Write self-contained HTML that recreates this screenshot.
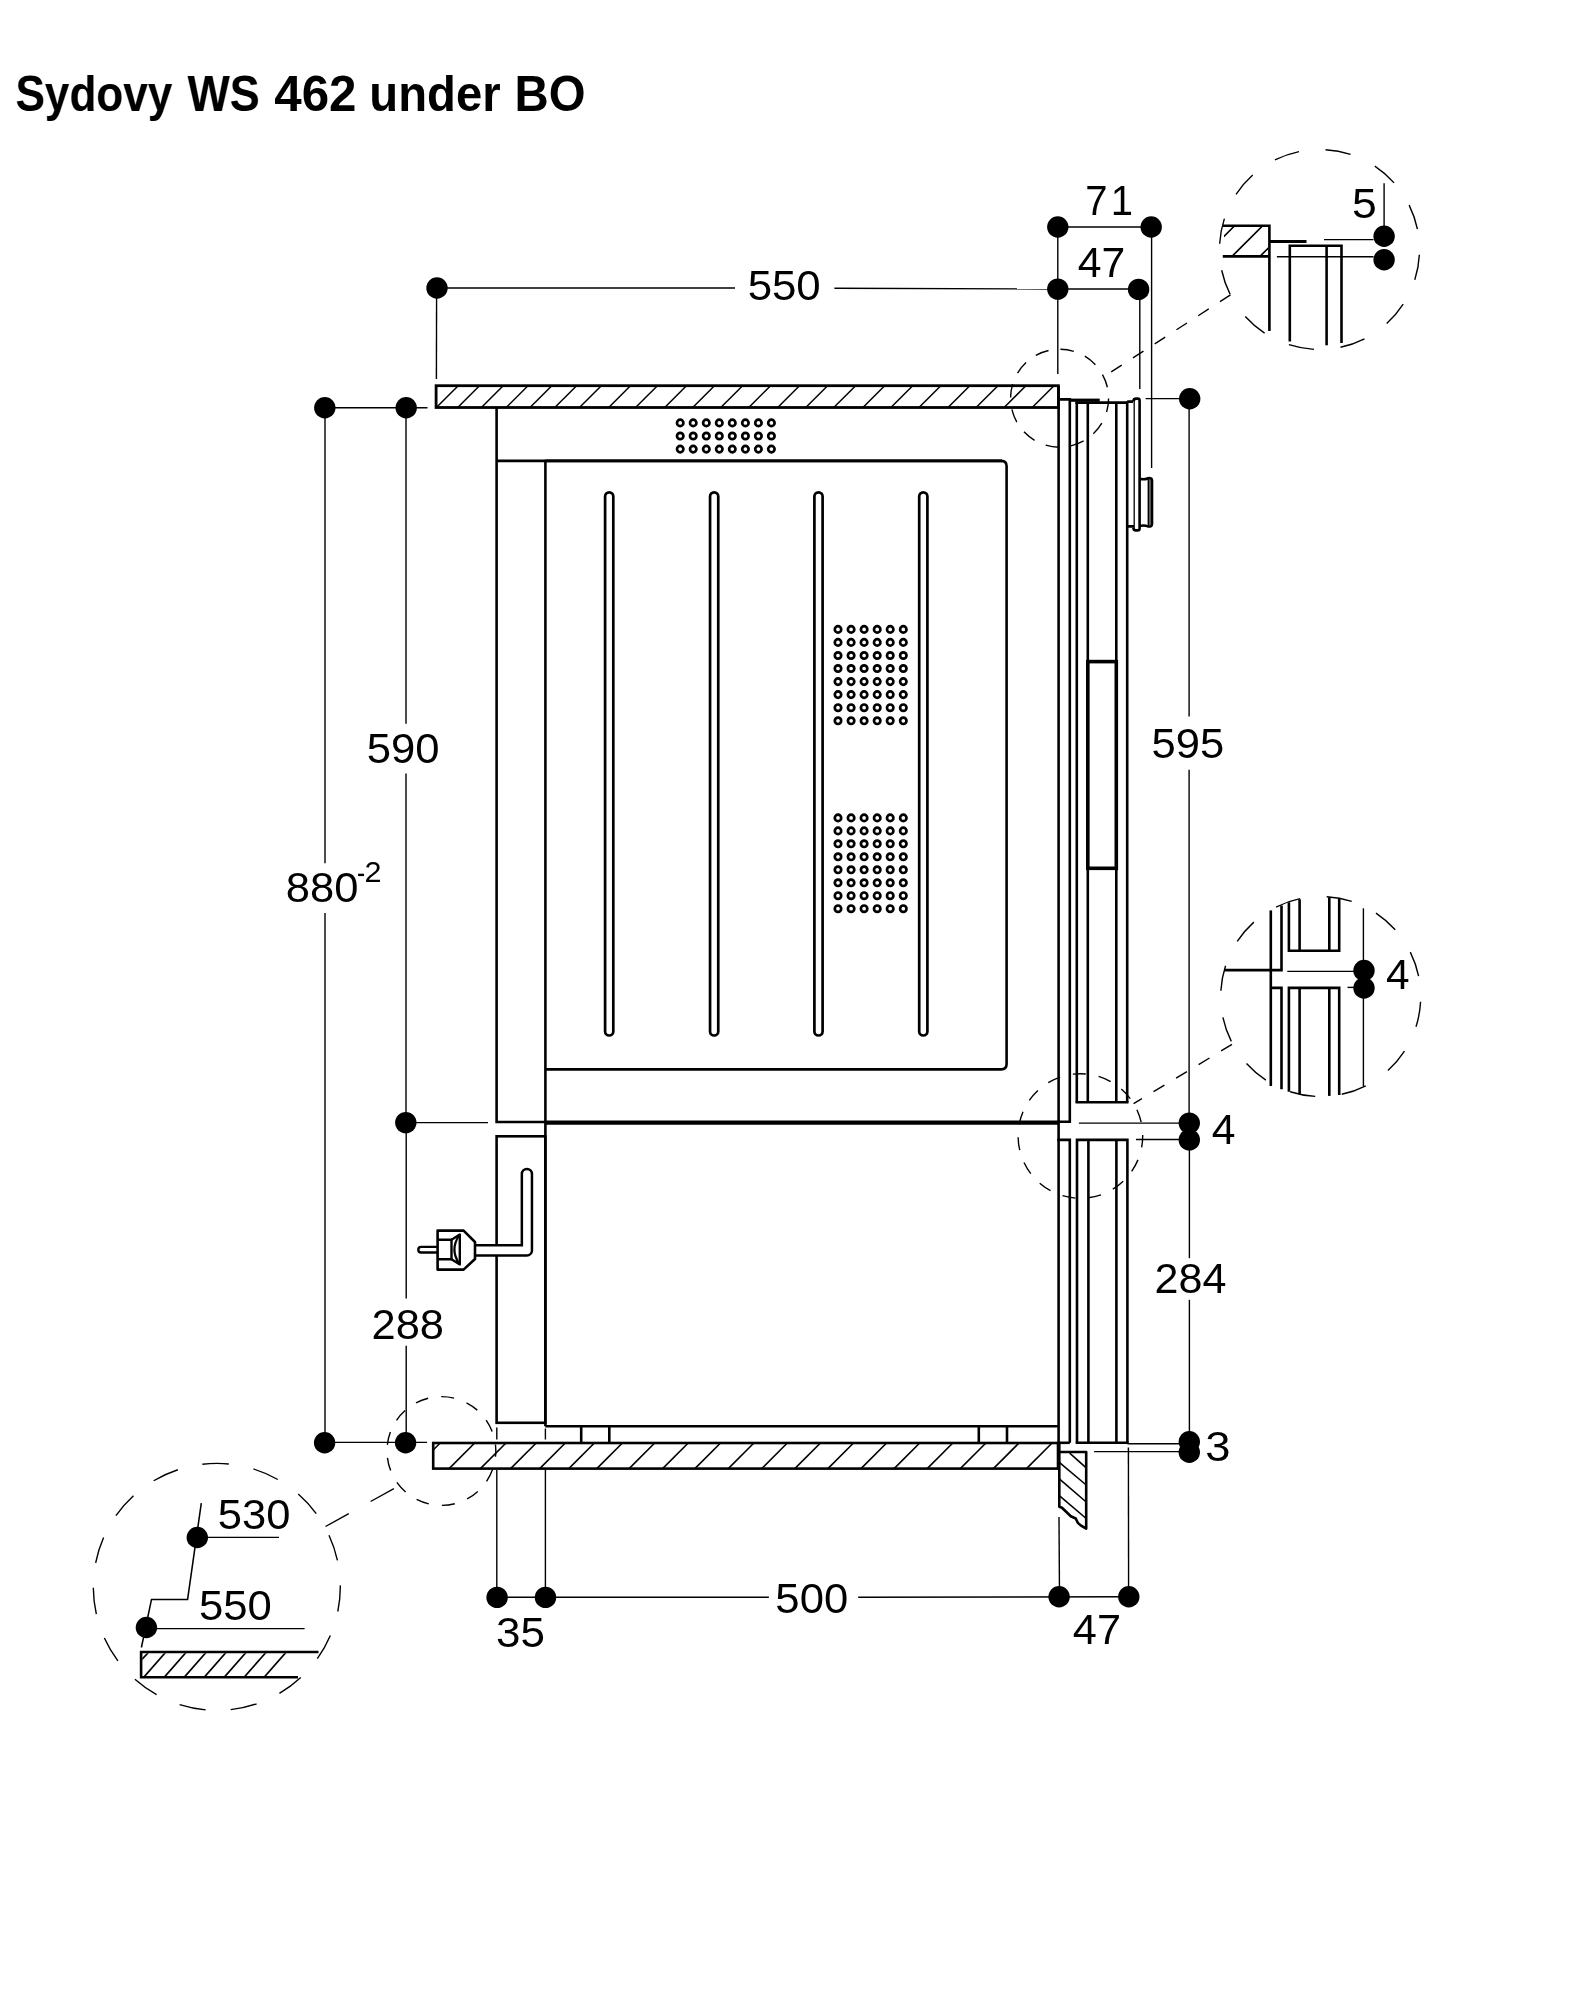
<!DOCTYPE html>
<html><head><meta charset="utf-8"><title>Sydovy WS 462 under BO</title>
<style>
html,body{margin:0;padding:0;background:#fff;}
body{width:1577px;height:2000px;overflow:hidden;font-family:"Liberation Sans",sans-serif;}
svg{display:block;filter:grayscale(1);}
svg text{font-family:"Liberation Sans",sans-serif;fill:#000;stroke:none;font-kerning:none;}
</style></head><body>
<svg width="1577" height="2000" viewBox="0 0 1577 2000" stroke="#000" stroke-linecap="butt">
<rect x="0" y="0" width="1577" height="2000" fill="#fff" stroke="none"/>
<g font-weight="bold">
<text transform="translate(15.43 110.7) scale(0.4414 0.4940)" font-size="100">Sydovy</text>
<text transform="translate(187.46 110.7) scale(0.4482 0.4940)" font-size="100">WS</text>
<text transform="translate(274.25 110.7) scale(0.4934 0.4940)" font-size="100">462</text>
<text transform="translate(369.37 110.7) scale(0.4728 0.4940)" font-size="100">under</text>
<text transform="translate(514.53 110.7) scale(0.4737 0.4940)" font-size="100">BO</text>
</g>
<g id="topbar">
<rect x="436.1" y="385.7" width="622.3" height="21.8" fill="#fff" stroke-width="2.8"/>
<line x1="436.4" y1="407.5" x2="458.2" y2="385.7" stroke-width="1.5"/>
<line x1="457.7" y1="407.5" x2="479.5" y2="385.7" stroke-width="1.5"/>
<line x1="481.4" y1="407.5" x2="503.2" y2="385.7" stroke-width="1.5"/>
<line x1="506.2" y1="407.5" x2="528.0" y2="385.7" stroke-width="1.5"/>
<line x1="530" y1="407.5" x2="551.8" y2="385.7" stroke-width="1.5"/>
<line x1="554.8" y1="407.5" x2="576.5999999999999" y2="385.7" stroke-width="1.5"/>
<line x1="579.5" y1="407.5" x2="601.3" y2="385.7" stroke-width="1.5"/>
<line x1="608.7" y1="407.5" x2="630.5" y2="385.7" stroke-width="1.5"/>
<line x1="635.6" y1="407.5" x2="657.4" y2="385.7" stroke-width="1.5"/>
<line x1="664.7" y1="407.5" x2="686.5" y2="385.7" stroke-width="1.5"/>
<line x1="692.7" y1="407.5" x2="714.5" y2="385.7" stroke-width="1.5"/>
<line x1="720.8" y1="407.5" x2="742.5999999999999" y2="385.7" stroke-width="1.5"/>
<line x1="748.8" y1="407.5" x2="770.5999999999999" y2="385.7" stroke-width="1.5"/>
<line x1="777.7" y1="407.5" x2="799.5" y2="385.7" stroke-width="1.5"/>
<line x1="805.8" y1="407.5" x2="827.5999999999999" y2="385.7" stroke-width="1.5"/>
<line x1="833.8" y1="407.5" x2="855.5999999999999" y2="385.7" stroke-width="1.5"/>
<line x1="862.9" y1="407.5" x2="884.6999999999999" y2="385.7" stroke-width="1.5"/>
<line x1="890.9" y1="407.5" x2="912.6999999999999" y2="385.7" stroke-width="1.5"/>
<line x1="919" y1="407.5" x2="940.8" y2="385.7" stroke-width="1.5"/>
<line x1="948" y1="407.5" x2="969.8" y2="385.7" stroke-width="1.5"/>
<line x1="976.1" y1="407.5" x2="997.9" y2="385.7" stroke-width="1.5"/>
<line x1="1004.1" y1="407.5" x2="1025.9" y2="385.7" stroke-width="1.5"/>
<line x1="1032.2" y1="407.5" x2="1054.0" y2="385.7" stroke-width="1.5"/>
</g>
<path d="M496.6 408 V1122 H545.3" stroke-width="2.6" fill="none"/>
<line x1="496.6" y1="460.9" x2="1002" y2="460.9" stroke-width="2.6"/>
<path d="M545.3 460.9 H1001.3 Q1006.6 460.9 1006.6 466.2 V1064.1 Q1006.6 1069.4 1001.3 1069.4 H545.3" stroke-width="2.6" fill="none"/>
<line x1="545.4" y1="460.9" x2="545.4" y2="1426.2" stroke-width="2.6"/>
<line x1="545.3" y1="1122.7" x2="1058.6" y2="1122.7" stroke-width="4.2"/>
<line x1="1058.6" y1="386" x2="1058.6" y2="1443" stroke-width="2.6"/>
<rect x="605.10" y="492.3" width="8.2" height="543.2" rx="4.1" fill="none" stroke-width="2.7"/>
<rect x="710.05" y="492.3" width="8.2" height="543.2" rx="4.1" fill="none" stroke-width="2.7"/>
<rect x="814.40" y="492.3" width="8.2" height="543.2" rx="4.1" fill="none" stroke-width="2.7"/>
<rect x="919.20" y="492.3" width="8.2" height="543.2" rx="4.1" fill="none" stroke-width="2.7"/>
<circle cx="680.2" cy="422.9" r="3.2" fill="none" stroke-width="2.7"/>
<circle cx="693.2" cy="422.9" r="3.2" fill="none" stroke-width="2.7"/>
<circle cx="706.3" cy="422.9" r="3.2" fill="none" stroke-width="2.7"/>
<circle cx="719.3" cy="422.9" r="3.2" fill="none" stroke-width="2.7"/>
<circle cx="732.3" cy="422.9" r="3.2" fill="none" stroke-width="2.7"/>
<circle cx="745.4" cy="422.9" r="3.2" fill="none" stroke-width="2.7"/>
<circle cx="758.4" cy="422.9" r="3.2" fill="none" stroke-width="2.7"/>
<circle cx="771.4" cy="422.9" r="3.2" fill="none" stroke-width="2.7"/>
<circle cx="680.2" cy="436.0" r="3.2" fill="none" stroke-width="2.7"/>
<circle cx="693.2" cy="436.0" r="3.2" fill="none" stroke-width="2.7"/>
<circle cx="706.3" cy="436.0" r="3.2" fill="none" stroke-width="2.7"/>
<circle cx="719.3" cy="436.0" r="3.2" fill="none" stroke-width="2.7"/>
<circle cx="732.3" cy="436.0" r="3.2" fill="none" stroke-width="2.7"/>
<circle cx="745.4" cy="436.0" r="3.2" fill="none" stroke-width="2.7"/>
<circle cx="758.4" cy="436.0" r="3.2" fill="none" stroke-width="2.7"/>
<circle cx="771.4" cy="436.0" r="3.2" fill="none" stroke-width="2.7"/>
<circle cx="680.2" cy="449.1" r="3.2" fill="none" stroke-width="2.7"/>
<circle cx="693.2" cy="449.1" r="3.2" fill="none" stroke-width="2.7"/>
<circle cx="706.3" cy="449.1" r="3.2" fill="none" stroke-width="2.7"/>
<circle cx="719.3" cy="449.1" r="3.2" fill="none" stroke-width="2.7"/>
<circle cx="732.3" cy="449.1" r="3.2" fill="none" stroke-width="2.7"/>
<circle cx="745.4" cy="449.1" r="3.2" fill="none" stroke-width="2.7"/>
<circle cx="758.4" cy="449.1" r="3.2" fill="none" stroke-width="2.7"/>
<circle cx="771.4" cy="449.1" r="3.2" fill="none" stroke-width="2.7"/>
<circle cx="838.0" cy="629.4" r="3.2" fill="none" stroke-width="2.7"/>
<circle cx="851.1" cy="629.4" r="3.2" fill="none" stroke-width="2.7"/>
<circle cx="864.1" cy="629.4" r="3.2" fill="none" stroke-width="2.7"/>
<circle cx="877.2" cy="629.4" r="3.2" fill="none" stroke-width="2.7"/>
<circle cx="890.2" cy="629.4" r="3.2" fill="none" stroke-width="2.7"/>
<circle cx="903.3" cy="629.4" r="3.2" fill="none" stroke-width="2.7"/>
<circle cx="838.0" cy="642.4" r="3.2" fill="none" stroke-width="2.7"/>
<circle cx="851.1" cy="642.4" r="3.2" fill="none" stroke-width="2.7"/>
<circle cx="864.1" cy="642.4" r="3.2" fill="none" stroke-width="2.7"/>
<circle cx="877.2" cy="642.4" r="3.2" fill="none" stroke-width="2.7"/>
<circle cx="890.2" cy="642.4" r="3.2" fill="none" stroke-width="2.7"/>
<circle cx="903.3" cy="642.4" r="3.2" fill="none" stroke-width="2.7"/>
<circle cx="838.0" cy="655.5" r="3.2" fill="none" stroke-width="2.7"/>
<circle cx="851.1" cy="655.5" r="3.2" fill="none" stroke-width="2.7"/>
<circle cx="864.1" cy="655.5" r="3.2" fill="none" stroke-width="2.7"/>
<circle cx="877.2" cy="655.5" r="3.2" fill="none" stroke-width="2.7"/>
<circle cx="890.2" cy="655.5" r="3.2" fill="none" stroke-width="2.7"/>
<circle cx="903.3" cy="655.5" r="3.2" fill="none" stroke-width="2.7"/>
<circle cx="838.0" cy="668.5" r="3.2" fill="none" stroke-width="2.7"/>
<circle cx="851.1" cy="668.5" r="3.2" fill="none" stroke-width="2.7"/>
<circle cx="864.1" cy="668.5" r="3.2" fill="none" stroke-width="2.7"/>
<circle cx="877.2" cy="668.5" r="3.2" fill="none" stroke-width="2.7"/>
<circle cx="890.2" cy="668.5" r="3.2" fill="none" stroke-width="2.7"/>
<circle cx="903.3" cy="668.5" r="3.2" fill="none" stroke-width="2.7"/>
<circle cx="838.0" cy="681.6" r="3.2" fill="none" stroke-width="2.7"/>
<circle cx="851.1" cy="681.6" r="3.2" fill="none" stroke-width="2.7"/>
<circle cx="864.1" cy="681.6" r="3.2" fill="none" stroke-width="2.7"/>
<circle cx="877.2" cy="681.6" r="3.2" fill="none" stroke-width="2.7"/>
<circle cx="890.2" cy="681.6" r="3.2" fill="none" stroke-width="2.7"/>
<circle cx="903.3" cy="681.6" r="3.2" fill="none" stroke-width="2.7"/>
<circle cx="838.0" cy="694.6" r="3.2" fill="none" stroke-width="2.7"/>
<circle cx="851.1" cy="694.6" r="3.2" fill="none" stroke-width="2.7"/>
<circle cx="864.1" cy="694.6" r="3.2" fill="none" stroke-width="2.7"/>
<circle cx="877.2" cy="694.6" r="3.2" fill="none" stroke-width="2.7"/>
<circle cx="890.2" cy="694.6" r="3.2" fill="none" stroke-width="2.7"/>
<circle cx="903.3" cy="694.6" r="3.2" fill="none" stroke-width="2.7"/>
<circle cx="838.0" cy="707.7" r="3.2" fill="none" stroke-width="2.7"/>
<circle cx="851.1" cy="707.7" r="3.2" fill="none" stroke-width="2.7"/>
<circle cx="864.1" cy="707.7" r="3.2" fill="none" stroke-width="2.7"/>
<circle cx="877.2" cy="707.7" r="3.2" fill="none" stroke-width="2.7"/>
<circle cx="890.2" cy="707.7" r="3.2" fill="none" stroke-width="2.7"/>
<circle cx="903.3" cy="707.7" r="3.2" fill="none" stroke-width="2.7"/>
<circle cx="838.0" cy="720.8" r="3.2" fill="none" stroke-width="2.7"/>
<circle cx="851.1" cy="720.8" r="3.2" fill="none" stroke-width="2.7"/>
<circle cx="864.1" cy="720.8" r="3.2" fill="none" stroke-width="2.7"/>
<circle cx="877.2" cy="720.8" r="3.2" fill="none" stroke-width="2.7"/>
<circle cx="890.2" cy="720.8" r="3.2" fill="none" stroke-width="2.7"/>
<circle cx="903.3" cy="720.8" r="3.2" fill="none" stroke-width="2.7"/>
<circle cx="838.0" cy="817.9" r="3.2" fill="none" stroke-width="2.7"/>
<circle cx="851.1" cy="817.9" r="3.2" fill="none" stroke-width="2.7"/>
<circle cx="864.1" cy="817.9" r="3.2" fill="none" stroke-width="2.7"/>
<circle cx="877.2" cy="817.9" r="3.2" fill="none" stroke-width="2.7"/>
<circle cx="890.2" cy="817.9" r="3.2" fill="none" stroke-width="2.7"/>
<circle cx="903.3" cy="817.9" r="3.2" fill="none" stroke-width="2.7"/>
<circle cx="838.0" cy="830.9" r="3.2" fill="none" stroke-width="2.7"/>
<circle cx="851.1" cy="830.9" r="3.2" fill="none" stroke-width="2.7"/>
<circle cx="864.1" cy="830.9" r="3.2" fill="none" stroke-width="2.7"/>
<circle cx="877.2" cy="830.9" r="3.2" fill="none" stroke-width="2.7"/>
<circle cx="890.2" cy="830.9" r="3.2" fill="none" stroke-width="2.7"/>
<circle cx="903.3" cy="830.9" r="3.2" fill="none" stroke-width="2.7"/>
<circle cx="838.0" cy="843.8" r="3.2" fill="none" stroke-width="2.7"/>
<circle cx="851.1" cy="843.8" r="3.2" fill="none" stroke-width="2.7"/>
<circle cx="864.1" cy="843.8" r="3.2" fill="none" stroke-width="2.7"/>
<circle cx="877.2" cy="843.8" r="3.2" fill="none" stroke-width="2.7"/>
<circle cx="890.2" cy="843.8" r="3.2" fill="none" stroke-width="2.7"/>
<circle cx="903.3" cy="843.8" r="3.2" fill="none" stroke-width="2.7"/>
<circle cx="838.0" cy="856.8" r="3.2" fill="none" stroke-width="2.7"/>
<circle cx="851.1" cy="856.8" r="3.2" fill="none" stroke-width="2.7"/>
<circle cx="864.1" cy="856.8" r="3.2" fill="none" stroke-width="2.7"/>
<circle cx="877.2" cy="856.8" r="3.2" fill="none" stroke-width="2.7"/>
<circle cx="890.2" cy="856.8" r="3.2" fill="none" stroke-width="2.7"/>
<circle cx="903.3" cy="856.8" r="3.2" fill="none" stroke-width="2.7"/>
<circle cx="838.0" cy="869.8" r="3.2" fill="none" stroke-width="2.7"/>
<circle cx="851.1" cy="869.8" r="3.2" fill="none" stroke-width="2.7"/>
<circle cx="864.1" cy="869.8" r="3.2" fill="none" stroke-width="2.7"/>
<circle cx="877.2" cy="869.8" r="3.2" fill="none" stroke-width="2.7"/>
<circle cx="890.2" cy="869.8" r="3.2" fill="none" stroke-width="2.7"/>
<circle cx="903.3" cy="869.8" r="3.2" fill="none" stroke-width="2.7"/>
<circle cx="838.0" cy="882.8" r="3.2" fill="none" stroke-width="2.7"/>
<circle cx="851.1" cy="882.8" r="3.2" fill="none" stroke-width="2.7"/>
<circle cx="864.1" cy="882.8" r="3.2" fill="none" stroke-width="2.7"/>
<circle cx="877.2" cy="882.8" r="3.2" fill="none" stroke-width="2.7"/>
<circle cx="890.2" cy="882.8" r="3.2" fill="none" stroke-width="2.7"/>
<circle cx="903.3" cy="882.8" r="3.2" fill="none" stroke-width="2.7"/>
<circle cx="838.0" cy="895.7" r="3.2" fill="none" stroke-width="2.7"/>
<circle cx="851.1" cy="895.7" r="3.2" fill="none" stroke-width="2.7"/>
<circle cx="864.1" cy="895.7" r="3.2" fill="none" stroke-width="2.7"/>
<circle cx="877.2" cy="895.7" r="3.2" fill="none" stroke-width="2.7"/>
<circle cx="890.2" cy="895.7" r="3.2" fill="none" stroke-width="2.7"/>
<circle cx="903.3" cy="895.7" r="3.2" fill="none" stroke-width="2.7"/>
<circle cx="838.0" cy="908.7" r="3.2" fill="none" stroke-width="2.7"/>
<circle cx="851.1" cy="908.7" r="3.2" fill="none" stroke-width="2.7"/>
<circle cx="864.1" cy="908.7" r="3.2" fill="none" stroke-width="2.7"/>
<circle cx="877.2" cy="908.7" r="3.2" fill="none" stroke-width="2.7"/>
<circle cx="890.2" cy="908.7" r="3.2" fill="none" stroke-width="2.7"/>
<circle cx="903.3" cy="908.7" r="3.2" fill="none" stroke-width="2.7"/>
<path d="M1058.6 399.4 H1069.8 V1121.8 H1057.5" stroke-width="2.6" fill="none"/>
<line x1="1070" y1="400.2" x2="1099.7" y2="400.2" stroke-width="3.2"/>
<line x1="1075.3" y1="402.6" x2="1127.2" y2="402.6" stroke-width="2.6"/>
<line x1="1076.8" y1="402.6" x2="1076.8" y2="1102.2" stroke-width="2.6"/>
<line x1="1087.8" y1="402.6" x2="1087.8" y2="1102.2" stroke-width="2.6"/>
<line x1="1116.3" y1="402.6" x2="1116.3" y2="1102.2" stroke-width="2.6"/>
<line x1="1127.2" y1="401.4" x2="1127.2" y2="1102.2" stroke-width="2.6"/>
<line x1="1075.5" y1="1102.2" x2="1128.5" y2="1102.2" stroke-width="2.6"/>
<rect x="1087.8" y="661.6" width="28.5" height="206.7" fill="none" stroke-width="3.6"/>
<path d="M1127.2 401.6 H1133 M1127.2 526.4 H1134" stroke-width="2.6" fill="none"/>
<path d="M1134.2 400.6 V528.4" stroke-width="1.3" fill="none"/>
<path d="M1133.4 401.5 Q1133.4 398.6 1136.3 398.6 H1137.6 Q1139.6 398.6 1139.6 400.6 V528.4 Q1139.6 530.4 1137.6 530.4 H1136 Q1133.4 530.4 1133.4 528" stroke-width="2.6" fill="none"/>
<rect x="1148.4" y="479" width="3.6" height="46.5" fill="#777" stroke="none"/>
<path d="M1139.6 478.8 Q1144 480 1148 478.2 Q1152 477.3 1152 480.5 V524 Q1152 527.2 1148 526.4 Q1144 524.8 1139.6 526" stroke-width="2.6" fill="none"/>
<path d="M1148.4 479 V525.5" stroke-width="1.6" fill="none"/>
<rect x="496.6" y="1136.3" width="48.7" height="286.5" fill="none" stroke-width="2.6"/>
<line x1="545.3" y1="1426.3" x2="1058.6" y2="1426.3" stroke-width="2.6"/>
<line x1="581.2" y1="1426.3" x2="581.2" y2="1443" stroke-width="2.6"/>
<line x1="609.3" y1="1426.3" x2="609.3" y2="1443" stroke-width="2.6"/>
<line x1="978.8" y1="1426.3" x2="978.8" y2="1443" stroke-width="2.6"/>
<line x1="1007" y1="1426.3" x2="1007" y2="1443" stroke-width="2.6"/>
<path d="M1057.3 1139.9 H1069.8 V1442.8" stroke-width="2.6" fill="none"/>
<path d="M1077 1442.8 V1139.9 H1127.4 V1442.8" stroke-width="2.6" fill="none"/>
<line x1="1088.4" y1="1139.9" x2="1088.4" y2="1442.8" stroke-width="2.6"/>
<line x1="1116.4" y1="1139.9" x2="1116.4" y2="1442.8" stroke-width="2.6"/>
<line x1="1057.3" y1="1442.8" x2="1069.8" y2="1442.8" stroke-width="2.6"/>
<line x1="1075.7" y1="1442.8" x2="1128.7" y2="1442.8" stroke-width="2.6"/>
<path d="M470 1250.4 H526.9 V1174" fill="none" stroke="#000" stroke-width="12.6" stroke-linecap="round" stroke-linejoin="round"/>
<path d="M470 1250.4 H526.9 V1174" fill="none" stroke="#fff" stroke-width="7.6" stroke-linecap="round" stroke-linejoin="round"/>
<rect x="418.3" y="1246.9" width="22" height="5.6" rx="2.8" fill="#fff" stroke-width="2.4"/>
<path d="M437.6 1230.6 H463.6 L475 1242 V1259 L463.6 1269.6 H437.6 Z" stroke-width="2.6" fill="#fff" stroke-linejoin="round"/>
<path d="M437.6 1239.8 H451.5 V1259.2 H437.6" stroke-width="2.4" fill="none"/>
<path d="M451.5 1239.8 L459.8 1234.6 V1264.4 L451.5 1259.2" stroke-width="2.4" fill="none" stroke-linejoin="round"/>
<path d="M459.4 1235 Q449.4 1249.5 459.4 1264" stroke-width="2.2" fill="none"/>
<rect x="433.2" y="1443" width="624.8" height="25.6" fill="#fff" stroke-width="2.6"/>
<line x1="449.1" y1="1468.6" x2="474.70000000000005" y2="1443" stroke-width="1.6"/>
<line x1="480.4" y1="1468.6" x2="506.0" y2="1443" stroke-width="1.6"/>
<line x1="510.6" y1="1468.6" x2="536.2" y2="1443" stroke-width="1.6"/>
<line x1="539.7" y1="1468.6" x2="565.3000000000001" y2="1443" stroke-width="1.6"/>
<line x1="568.8" y1="1468.6" x2="594.4" y2="1443" stroke-width="1.6"/>
<line x1="596.8" y1="1468.6" x2="622.4" y2="1443" stroke-width="1.6"/>
<line x1="629.1" y1="1468.6" x2="654.7" y2="1443" stroke-width="1.6"/>
<line x1="662.6" y1="1468.6" x2="688.2" y2="1443" stroke-width="1.6"/>
<line x1="694.9" y1="1468.6" x2="720.5" y2="1443" stroke-width="1.6"/>
<line x1="728.3" y1="1468.6" x2="753.9" y2="1443" stroke-width="1.6"/>
<line x1="761.7" y1="1468.6" x2="787.3000000000001" y2="1443" stroke-width="1.6"/>
<line x1="794.8" y1="1468.6" x2="820.4" y2="1443" stroke-width="1.6"/>
<line x1="827.9" y1="1468.6" x2="853.5" y2="1443" stroke-width="1.6"/>
<line x1="861" y1="1468.6" x2="886.6" y2="1443" stroke-width="1.6"/>
<line x1="894.1" y1="1468.6" x2="919.7" y2="1443" stroke-width="1.6"/>
<line x1="927.2" y1="1468.6" x2="952.8000000000001" y2="1443" stroke-width="1.6"/>
<line x1="960.3" y1="1468.6" x2="985.9" y2="1443" stroke-width="1.6"/>
<line x1="993.4" y1="1468.6" x2="1019.0" y2="1443" stroke-width="1.6"/>
<line x1="1026.5" y1="1468.6" x2="1052.1" y2="1443" stroke-width="1.6"/>
<line x1="433.2" y1="1450" x2="440.2" y2="1443" stroke-width="1.6"/>
<path d="M1059.3 1452 V1506.7 L1062 1507.8 L1070.8 1516.3 L1075.7 1518.5 L1077.9 1522.9 L1080.7 1525.4 L1086.2 1528.6 V1452 Z" stroke-width="2.6" fill="#fff" stroke-linejoin="round"/>
<line x1="1059.3" y1="1443" x2="1059.3" y2="1453" stroke-width="2.6"/>
<line x1="1069.7" y1="1453.1" x2="1086.2" y2="1467.9" stroke-width="1.6"/>
<line x1="1059.3" y1="1462.4" x2="1086.2" y2="1485" stroke-width="1.6"/>
<line x1="1059.3" y1="1478.9" x2="1086.2" y2="1502" stroke-width="1.6"/>
<line x1="1059.3" y1="1495.7" x2="1086.2" y2="1518.5" stroke-width="1.6"/>
<line x1="437" y1="288" x2="735" y2="288" stroke-width="1.4"/>
<line x1="834.4" y1="288.3" x2="1058" y2="289" stroke-width="1.4"/>
<line x1="436.6" y1="288" x2="436.4" y2="379" stroke-width="1.4"/>
<line x1="1057.8" y1="227" x2="1151.2" y2="227" stroke-width="1.4"/>
<line x1="1057.8" y1="289" x2="1138.6" y2="289" stroke-width="1.4"/>
<line x1="1057.8" y1="227" x2="1057.8" y2="374" stroke-width="1.4"/>
<line x1="1139.8" y1="289" x2="1139.8" y2="389" stroke-width="1.4"/>
<line x1="1151.6" y1="227" x2="1151.6" y2="468" stroke-width="1.4"/>
<line x1="1145.6" y1="398.6" x2="1189.7" y2="398.6" stroke-width="1.4"/>
<line x1="1189.1" y1="398.6" x2="1189.1" y2="716.6" stroke-width="1.4"/>
<line x1="1189.1" y1="769.85" x2="1189.1" y2="1123" stroke-width="1.4"/>
<line x1="1078.9" y1="1123.1" x2="1189" y2="1123.1" stroke-width="1.4"/>
<line x1="1136" y1="1139.5" x2="1189" y2="1139.5" stroke-width="1.4"/>
<line x1="1189.4" y1="1140" x2="1189.4" y2="1258.2" stroke-width="1.4"/>
<line x1="1189.4" y1="1299.8" x2="1189.4" y2="1442" stroke-width="1.4"/>
<line x1="1127.4" y1="1443.8" x2="1189" y2="1443.8" stroke-width="1.4"/>
<line x1="1094.1" y1="1451.6" x2="1189" y2="1451.6" stroke-width="1.4"/>
<line x1="324.8" y1="407.7" x2="427.5" y2="407.7" stroke-width="1.4"/>
<line x1="325" y1="407.7" x2="325" y2="863.2" stroke-width="1.4"/>
<line x1="325" y1="913.1" x2="325" y2="1442.7" stroke-width="1.4"/>
<line x1="406" y1="407.7" x2="406" y2="723.7" stroke-width="1.4"/>
<line x1="406" y1="773.6" x2="406" y2="1122.6" stroke-width="1.4"/>
<line x1="405.6" y1="1122.6" x2="488" y2="1122.6" stroke-width="1.4"/>
<line x1="406.2" y1="1122.6" x2="406.2" y2="1298.5" stroke-width="1.4"/>
<line x1="406.2" y1="1345.7" x2="406.2" y2="1442.7" stroke-width="1.4"/>
<line x1="324.4" y1="1442.4" x2="427.1" y2="1442.4" stroke-width="1.4"/>
<line x1="496.8" y1="1470" x2="496.8" y2="1597" stroke-width="1.4"/>
<line x1="545.4" y1="1470" x2="545.4" y2="1597" stroke-width="1.4"/>
<line x1="496.8" y1="1427.6" x2="496.8" y2="1439.5" stroke-width="1.4"/>
<line x1="545.4" y1="1428.5" x2="545.4" y2="1439.5" stroke-width="1.4"/>
<line x1="496.8" y1="1597.3" x2="768.9" y2="1597.3" stroke-width="1.4"/>
<line x1="858.2" y1="1597.2" x2="1128.8" y2="1596.8" stroke-width="1.4"/>
<line x1="1059" y1="1517" x2="1059.5" y2="1597" stroke-width="1.4"/>
<line x1="1128.4" y1="1447.5" x2="1128.6" y2="1597" stroke-width="1.4"/>
<circle cx="1059.6" cy="398.2" r="49" fill="none" stroke-width="1.4" stroke-dasharray="13.60 12.06" stroke-dashoffset="-0.43"/>
<line x1="1230.5" y1="294.9" x2="1110.3" y2="372.5" stroke-width="1.4" stroke-dasharray="12.5 13.4"/>
<circle cx="1319.5" cy="249.5" r="100" fill="none" stroke-width="1.4" stroke-dasharray="25.50 26.86" stroke-dashoffset="-5.41"/>
<circle cx="1080.4" cy="1136" r="62.3" fill="none" stroke-width="1.4" stroke-dasharray="13.10 13.00" stroke-dashoffset="1.63"/>
<line x1="1232" y1="1044.4" x2="1133.6" y2="1103.7" stroke-width="1.4" stroke-dasharray="12.7 13.6"/>
<circle cx="1320.7" cy="996.5" r="100" fill="none" stroke-width="1.4" stroke-dasharray="25.50 26.86" stroke-dashoffset="-5.34"/>
<circle cx="441.4" cy="1451" r="54.4" fill="none" stroke-width="1.4" stroke-dasharray="13.00 13.29" stroke-dashoffset="7.12"/>
<line x1="393.9" y1="1488.6" x2="325.5" y2="1526.5" stroke-width="1.4" stroke-dasharray="26.6 25"/>
<circle cx="216.8" cy="1586.9" r="123.5" fill="none" stroke-width="1.4" stroke-dasharray="26.60 25.13" stroke-dashoffset="1.83"/>
<rect x="1222.8" y="225.8" width="46.6" height="30.6" fill="none" stroke="none"/>
<path d="M1222.8 225.8 H1269.4 V331 M1222.8 256.4 H1269.4" stroke-width="2.6" fill="none"/>
<clipPath id="d1"><rect x="1224" y="227" width="44" height="28.2"/></clipPath><g clip-path="url(#d1)">
<line x1="1232" y1="256.4" x2="1262.6" y2="225.8" stroke-width="1.6"/>
<line x1="1260" y1="256.4" x2="1290.6" y2="225.8" stroke-width="1.6"/>
<line x1="1204" y1="256.4" x2="1234.6" y2="225.8" stroke-width="1.6"/>
</g>
<line x1="1269.4" y1="241.6" x2="1306.5" y2="241.6" stroke-width="3.0"/>
<path d="M1289.8 341.5 V245.8 H1341.5 V343" stroke-width="2.6" fill="none"/>
<line x1="1326.6" y1="245.8" x2="1326.6" y2="345.3" stroke-width="2.6"/>
<line x1="1324" y1="239.6" x2="1373.5" y2="239.6" stroke-width="1.4"/>
<line x1="1276.9" y1="256.8" x2="1373.5" y2="256.8" stroke-width="1.4"/>
<line x1="1384.1" y1="183.3" x2="1384.1" y2="236" stroke-width="1.4"/>
<circle cx="1384.1" cy="236.3" r="10.7" fill="#000" stroke="none"/>
<circle cx="1384.1" cy="259.8" r="10.7" fill="#000" stroke="none"/>
<path d="M1270.8 910.4 V1086" stroke-width="2.6" fill="none"/>
<path d="M1224.6 970.1 H1281.5 V905.4" stroke-width="2.6" fill="none"/>
<path d="M1288.9 902.2 V950.8 H1339.2 V898.4" stroke-width="2.6" fill="none"/>
<line x1="1299.6" y1="899.3" x2="1299.6" y2="950.8" stroke-width="2.6"/>
<line x1="1329.3" y1="897.2" x2="1329.3" y2="950.8" stroke-width="2.6"/>
<path d="M1270.8 987.9 H1281.5 V1089.3" stroke-width="2.6" fill="none"/>
<path d="M1288.9 1091.8 V987.9 H1339.2 V1095" stroke-width="2.6" fill="none"/>
<line x1="1299.6" y1="987.9" x2="1299.6" y2="1094.2" stroke-width="2.6"/>
<line x1="1329.3" y1="987.9" x2="1329.3" y2="1095.9" stroke-width="2.6"/>
<line x1="1287.3" y1="971.4" x2="1355" y2="971.4" stroke-width="1.4"/>
<line x1="1347.5" y1="987.4" x2="1355" y2="987.4" stroke-width="1.4"/>
<line x1="1363.4" y1="908.3" x2="1363.4" y2="1086" stroke-width="1.4"/>
<circle cx="1364" cy="970.45" r="10.7" fill="#000" stroke="none"/>
<circle cx="1364" cy="988.0" r="10.7" fill="#000" stroke="none"/>
<path d="M201.3 1503.1 L187.6 1599.4 H151.5 L141.4 1647.5" stroke-width="1.54" fill="none"/>
<line x1="197.4" y1="1537.4" x2="279" y2="1537.4" stroke-width="1.4"/>
<line x1="146.3" y1="1628.6" x2="304.6" y2="1628.6" stroke-width="1.4"/>
<circle cx="197.3" cy="1537.5" r="10.7" fill="#000" stroke="none"/>
<circle cx="146.4" cy="1627.5" r="10.7" fill="#000" stroke="none"/>
<path d="M318.5 1652 H141.1 V1677.3 H298" stroke-width="2.6" fill="none"/>
<clipPath id="d3"><rect x="142.3" y="1653.2" width="170" height="23"/></clipPath><g clip-path="url(#d3)">
<line x1="143.7" y1="1677.3" x2="165.89999999999998" y2="1652.0" stroke-width="1.7"/>
<line x1="164.2" y1="1677.3" x2="186.39999999999998" y2="1652.0" stroke-width="1.7"/>
<line x1="184.2" y1="1677.3" x2="206.39999999999998" y2="1652.0" stroke-width="1.7"/>
<line x1="204.2" y1="1677.3" x2="226.39999999999998" y2="1652.0" stroke-width="1.7"/>
<line x1="224.2" y1="1677.3" x2="246.39999999999998" y2="1652.0" stroke-width="1.7"/>
<line x1="244.1" y1="1677.3" x2="266.3" y2="1652.0" stroke-width="1.7"/>
<line x1="264.1" y1="1677.3" x2="286.3" y2="1652.0" stroke-width="1.7"/>
<line x1="141.1" y1="1660.2" x2="148" y2="1653" stroke-width="1.7"/>
</g>
<circle cx="437" cy="288" r="10.7" fill="#000" stroke="none"/>
<circle cx="1057.8" cy="227" r="10.7" fill="#000" stroke="none"/>
<circle cx="1151.2" cy="227" r="10.7" fill="#000" stroke="none"/>
<circle cx="1057.8" cy="289.1" r="10.7" fill="#000" stroke="none"/>
<circle cx="1138.6" cy="289.4" r="10.7" fill="#000" stroke="none"/>
<circle cx="1189.7" cy="398.8" r="10.7" fill="#000" stroke="none"/>
<circle cx="324.8" cy="407.7" r="10.7" fill="#000" stroke="none"/>
<circle cx="406.2" cy="407.7" r="10.7" fill="#000" stroke="none"/>
<circle cx="405.8" cy="1122.6" r="10.7" fill="#000" stroke="none"/>
<circle cx="324.6" cy="1442.7" r="10.7" fill="#000" stroke="none"/>
<circle cx="405.6" cy="1442.7" r="10.7" fill="#000" stroke="none"/>
<circle cx="1189.3" cy="1123.1" r="10.7" fill="#000" stroke="none"/>
<circle cx="1189.3" cy="1139.9" r="10.7" fill="#000" stroke="none"/>
<circle cx="1189.3" cy="1441.8" r="10.7" fill="#000" stroke="none"/>
<circle cx="1189.3" cy="1452.2" r="10.7" fill="#000" stroke="none"/>
<circle cx="497.1" cy="1597.4" r="10.7" fill="#000" stroke="none"/>
<circle cx="545.5" cy="1597.4" r="10.7" fill="#000" stroke="none"/>
<circle cx="1059.1" cy="1596.7" r="10.7" fill="#000" stroke="none"/>
<circle cx="1128.8" cy="1596.7" r="10.7" fill="#000" stroke="none"/>
<g opacity="0.999">
<text transform="translate(747.65 300.38) scale(0.4382 0.4265)" font-size="100">550</text>
<text transform="translate(1085.25 214.70) scale(0.4004 0.4222)" font-size="100">7</text>
<text transform="translate(1077.67 276.95) scale(0.4273 0.4222)" font-size="100">47</text>
<text transform="translate(1352.12 217.78) scale(0.4450 0.4314)" font-size="100">5</text>
<text transform="translate(366.80 762.68) scale(0.4363 0.4273)" font-size="100">590</text>
<text transform="translate(285.76 902.23) scale(0.4357 0.4287)" font-size="100">880</text>
<text transform="translate(1151.56 758.33) scale(0.4356 0.4301)" font-size="100">595</text>
<text transform="translate(1211.82 1144.40) scale(0.4267 0.4288)" font-size="100">4</text>
<text transform="translate(1154.53 1293.33) scale(0.4311 0.4301)" font-size="100">284</text>
<text transform="translate(1205.37 1460.88) scale(0.4535 0.4301)" font-size="100">3</text>
<text transform="translate(371.46 1339.28) scale(0.4347 0.4251)" font-size="100">288</text>
<text transform="translate(1072.81 1643.70) scale(0.4331 0.4281)" font-size="100">47</text>
<text transform="translate(775.35 1612.68) scale(0.4367 0.4280)" font-size="100">500</text>
<text transform="translate(496.02 1647.18) scale(0.4398 0.4308)" font-size="100">35</text>
<text transform="translate(217.86 1529.08) scale(0.4354 0.4251)" font-size="100">530</text>
<text transform="translate(199.05 1619.68) scale(0.4367 0.4273)" font-size="100">550</text>
<text transform="translate(1385.93 989.15) scale(0.4237 0.4281)" font-size="100">4</text>
<text transform="translate(364.61 882.40) scale(0.3062 0.2993)" font-size="100">2</text>
<text transform="translate(1110.84 214.7) scale(0.40 0.4222)" font-size="100">1</text>
</g>
<line x1="358.1" y1="874.9" x2="364.05" y2="874.9" stroke-width="2.4"/>
</svg>
</body></html>
